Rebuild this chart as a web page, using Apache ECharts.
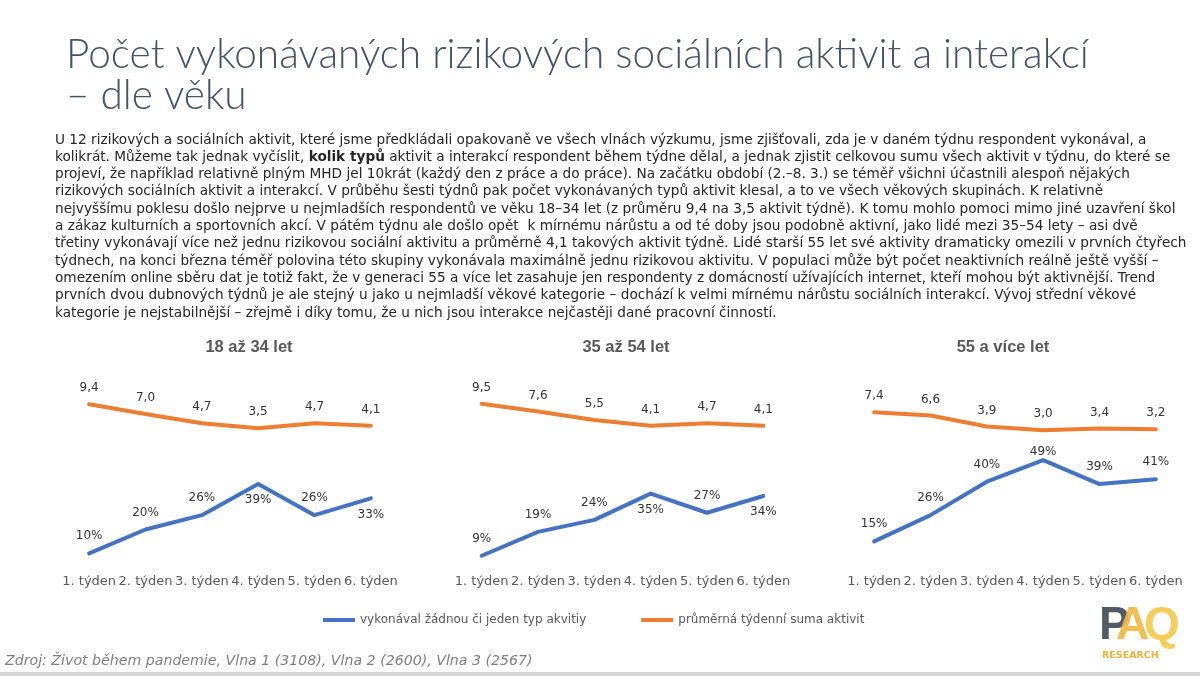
<!DOCTYPE html>
<html><head><meta charset="utf-8">
<script src="https://cdn.jsdelivr.net/npm/echarts@6/dist/echarts.min.js"></script>
<style>html,body{margin:0;padding:0;background:#fff}#c{width:1200px;height:676px}</style>
</head><body><div id="c"></div>
<script>
// ---------------- data ----------------
const weeks = ['1. týden', '2. týden', '3. týden', '4. týden', '5. týden', '6. týden'];
const groups = ['18 až 34 let', '35 až 54 let', '55 a více let'];
const seriesNames = ['vykonával žádnou či jeden typ akvitiy', 'průměrná týdenní suma aktivit'];
const lowActivity18 = [10, 20, 26, 39, 26, 33];
const lowActivity35 = [9, 19, 24, 35, 27, 34];
const lowActivity55 = [15, 26, 40, 49, 39, 41];
const weeklySum18 = [9.4, 7.0, 4.7, 3.5, 4.7, 4.1];
const weeklySum35 = [9.5, 7.6, 5.5, 4.1, 4.7, 4.1];
const weeklySum55 = [7.4, 6.6, 3.9, 3.0, 3.4, 3.2];
const titleLines = ['Počet vykonávaných rizikových sociálních aktivit a interakcí', '– dle věku'];
const paragraphLines = [
  'U 12 rizikových a sociálních aktivit, které jsme předkládali opakovaně ve všech vlnách výzkumu, jsme zjišťovali, zda je v daném týdnu respondent vykonával, a',
  ['kolikrát. Můžeme tak jednak vyčíslit, ', 'kolik typů', ' aktivit a interakcí respondent během týdne dělal, a jednak zjistit celkovou sumu všech aktivit v týdnu, do které se'],
  'projeví, že například relativně plným MHD jel 10krát (každý den z práce a do práce). Na začátku období (2.–8. 3.) se téměř všichni účastnili alespoň nějakých',
  'rizikových sociálních aktivit a interakcí. V průběhu šesti týdnů pak počet vykonávaných typů aktivit klesal, a to ve všech věkových skupinách. K relativně',
  'nejvyššímu poklesu došlo nejprve u nejmladších respondentů ve věku 18–34 let (z průměru 9,4 na 3,5 aktivit týdně). K tomu mohlo pomoci mimo jiné uzavření škol',
  'a zákaz kulturních a sportovních akcí. V pátém týdnu ale došlo opět  k mírnému nárůstu a od té doby jsou podobně aktivní, jako lidé mezi 35–54 lety – asi dvě',
  'třetiny vykonávají více než jednu rizikovou sociální aktivitu a průměrně 4,1 takových aktivit týdně. Lidé starší 55 let své aktivity dramaticky omezili v prvních čtyřech',
  'týdnech, na konci března téměř polovina této skupiny vykonávala maximálně jednu rizikovou aktivitu. V populaci může být počet neaktivních reálně ještě vyšší –',
  'omezením online sběru dat je totiž fakt, že v generaci 55 a více let zasahuje jen respondenty z domácností užívajících internet, kteří mohou být aktivnější. Trend',
  'prvních dvou dubnových týdnů je ale stejný u jako u nejmladší věkové kategorie – dochází k velmi mírnému nárůstu sociálních interakcí. Vývoj střední věkové',
  'kategorie je nejstabilnější – zřejmě i díky tomu, že u nich jsou interakce nejčastěji dané pracovní činností.'
];
const sourceText = 'Zdroj: Život během pandemie, Vlna 1 (3108), Vlna 2 (2600), Vlna 3 (2567)';

const lowActivity = [lowActivity18, lowActivity35, lowActivity55];
const weeklySum = [weeklySum18, weeklySum35, weeklySum55];

// ---------------- layout / style ----------------
const BLUE = '#4472C4', ORANGE = '#ED7D31';
const FONT = 'DejaVu Sans';
const gridLefts = [61, 453.5, 846];
const gridWidth = 338;
const panelTitleX = [249, 626, 1003];
const blueBelow = [[3, 5], [3, 5], []];      // label placement of blue points
const blueClose = [[], [], [3]];

function fitSize(text, family, weight, style, target) {
  const ctx = document.createElement('canvas').getContext('2d');
  ctx.font = `${style} ${weight} 100px "${family}"`;
  return 100 * target / ctx.measureText(text).width;
}
const titleSize = fitSize(titleLines[0], 'Lato', 300, 'normal', 1023);
const paraSize = fitSize(paragraphLines[0], FONT, 'normal', 'normal', 1093);
const srcSize = fitSize(sourceText, FONT, 'normal', 'italic', 528);

const fmtDec = v => v.toFixed(1).replace('.', ',');

const grids = [], xAxes = [], yAxes = [], series = [];
for (let i = 0; i < 3; i++) {
  grids.push({ left: gridLefts[i], width: gridWidth, top: 372, height: 200 });
  xAxes.push({
    type: 'category', gridIndex: i, data: weeks, boundaryGap: true,
    axisLine: { show: false }, axisTick: { show: false },
    axisLabel: { interval: 0, margin: 3, color: '#595959', fontSize: 13, fontFamily: FONT }
  });
  yAxes.push({ type: 'value', gridIndex: i, min: 2.2, max: 85.9, show: false, splitLine: { show: false } });
  yAxes.push({ type: 'value', gridIndex: i, min: -32.02, max: 17.36, show: false, splitLine: { show: false } });
  series.push({
    name: seriesNames[0], type: 'line', xAxisIndex: i, yAxisIndex: 2 * i,
    symbol: 'circle', symbolSize: 0.1, showSymbol: true,
    lineStyle: { color: BLUE, width: 4, join: 'round', cap: 'round' },
    itemStyle: { color: BLUE },
    data: lowActivity[i].map((v, k) => ({
      value: v,
      label: blueBelow[i].includes(k) ? { position: 'bottom', distance: 10 }
        : (blueClose[i].includes(k) ? { position: 'top', distance: 2 } : { position: 'top', distance: 11 })
    })),
    label: { show: true, formatter: p => p.value + '%', color: '#333', fontSize: 12, fontFamily: FONT }
  });
  series.push({
    name: seriesNames[1], type: 'line', xAxisIndex: i, yAxisIndex: 2 * i + 1,
    symbol: 'circle', symbolSize: 0.1, showSymbol: true,
    lineStyle: { color: ORANGE, width: 4, join: 'round', cap: 'round' },
    itemStyle: { color: ORANGE },
    data: weeklySum[i],
    label: { show: true, position: 'top', distance: 10, formatter: p => fmtDec(p.value), color: '#333', fontSize: 12, fontFamily: FONT }
  });
}

const graphics = [];
titleLines.forEach((t, i) => graphics.push({
  type: 'text', left: 66, top: 34 + i * 41,
  style: { text: t, fill: '#44546A', fontSize: titleSize, fontFamily: 'Lato', fontWeight: 300 }
}));
paragraphLines.forEach((line, i) => {
  const y = 140 + i * 17.3;
  if (Array.isArray(line)) {
    graphics.push({
      type: 'text', x: 55, y: y,
      style: {
        text: `{n|${line[0]}}{b|${line[1]}}{n|${line[2]}}`, verticalAlign: 'middle',
        rich: {
          n: { fontSize: paraSize, fontFamily: FONT, fill: '#262626' },
          b: { fontSize: paraSize, fontFamily: FONT, fontWeight: 'bold', fill: '#262626' }
        }
      }
    });
  } else {
    graphics.push({
      type: 'text', x: 55, y: y,
      style: { text: line, fontSize: paraSize, fontFamily: FONT, fill: '#262626', verticalAlign: 'middle' }
    });
  }
});
groups.forEach((g, i) => graphics.push({
  type: 'text', x: panelTitleX[i], y: 347,
  style: { text: g, align: 'center', verticalAlign: 'middle', fontSize: 16.5, fontWeight: 'bold', fontFamily: 'Liberation Sans', fill: '#595959' }
}));
graphics.push({
  type: 'text', x: 5, y: 661,
  style: { text: sourceText, verticalAlign: 'middle', fontSize: srcSize, fontStyle: 'italic', fontFamily: FONT, fill: '#7F7F7F' }
});
// logo
graphics.push({ type: 'text', x: 1099, y: 603, style: { text: 'P', fontSize: 46, fontWeight: 'bold', fontFamily: 'Liberation Sans', fill: '#505B66' } });
graphics.push({ type: 'text', x: 1116, y: 603, style: { text: 'A', fontSize: 46, fontWeight: 'bold', fontFamily: 'Liberation Sans', fill: '#F1B843', opacity: 0.92 } });
graphics.push({ type: 'text', x: 1144, y: 603, style: { text: 'Q', fontSize: 46, fontWeight: 'bold', fontFamily: 'Liberation Sans', fill: '#F5C84C', opacity: 0.92 } });
graphics.push({ type: 'text', x: 1102, y: 651, style: { text: 'RESEARCH', fontSize: 9.5, fontWeight: 'bold', fontFamily: FONT, fill: '#F0B23A' } });
graphics.push({ type: 'rect', shape: { x: 0, y: 672, width: 1200, height: 4 }, style: { fill: '#D6D6D6' } });

const chart = echarts.init(document.getElementById('c'), null, { renderer: 'canvas' });
chart.setOption({
  backgroundColor: '#fff',
  animation: false,
  grid: grids, xAxis: xAxes, yAxis: yAxes, series: series,
  legend: {
    data: seriesNames, left: 318, top: 609, icon: 'rect', itemWidth: 32, itemHeight: 4, itemGap: 55,
    textStyle: { color: '#595959', fontSize: 12, fontFamily: FONT }
  },
  graphic: graphics
});
</script></body></html>
